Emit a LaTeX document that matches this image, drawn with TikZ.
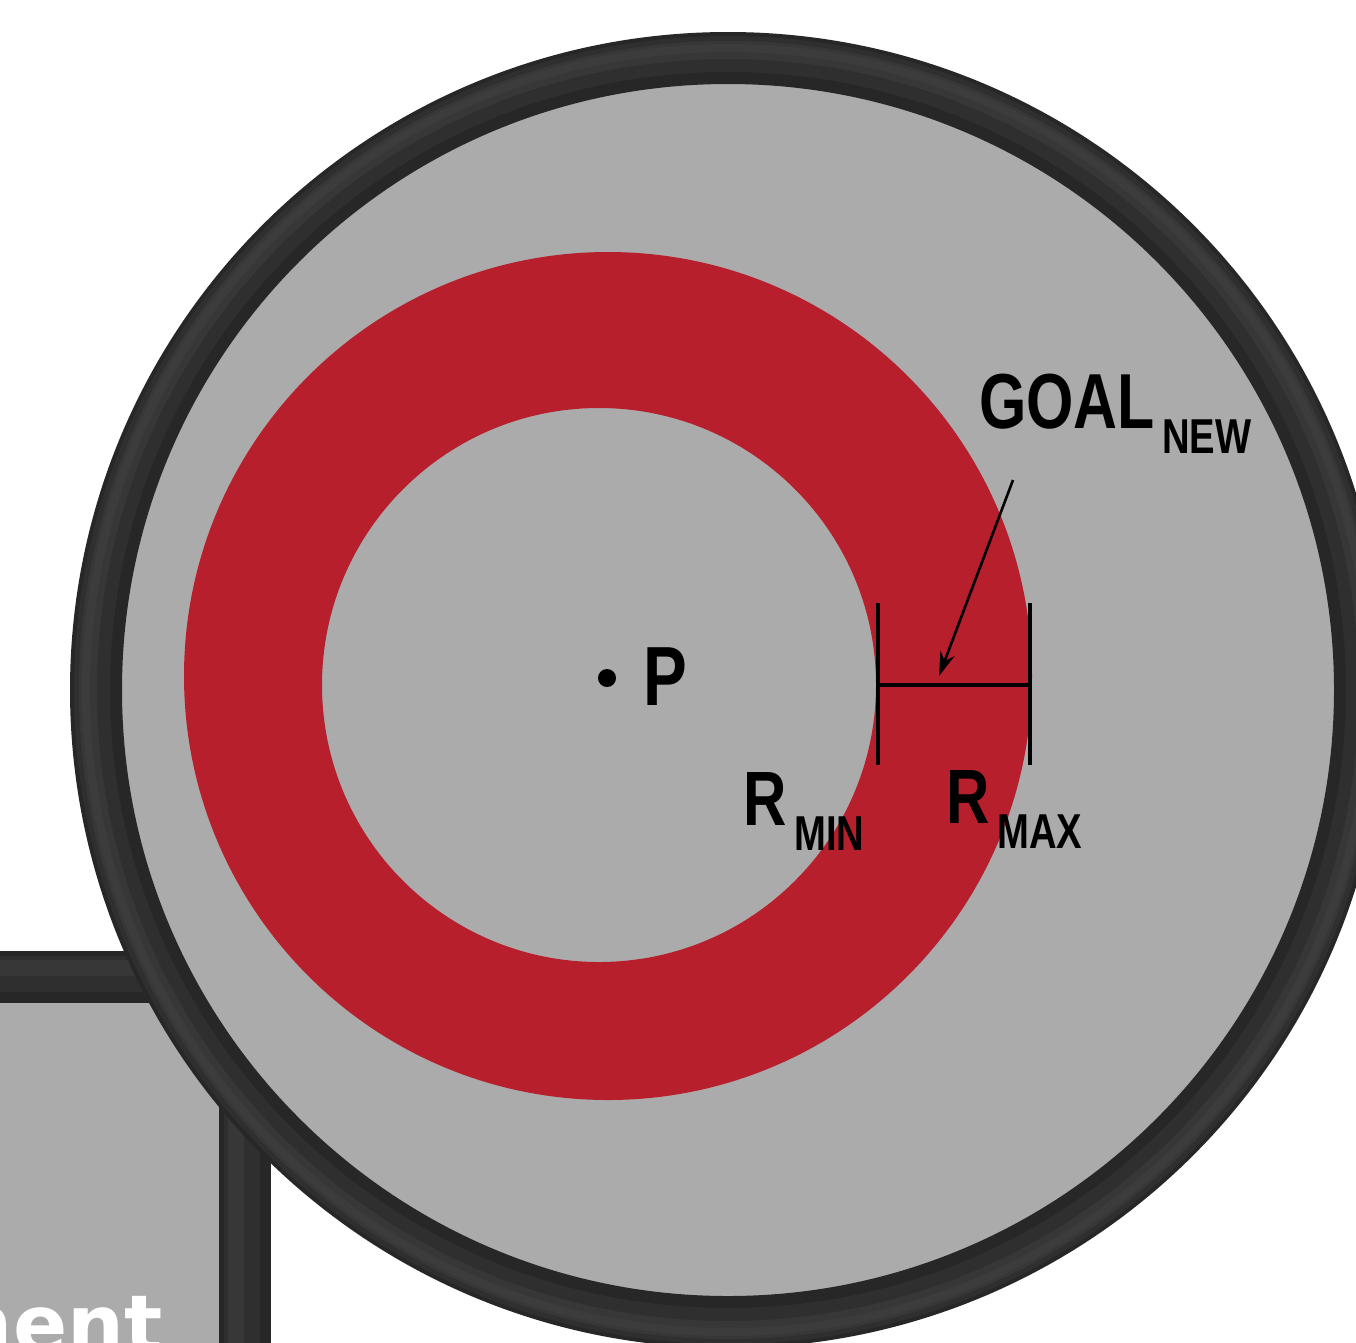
\documentclass[tikz,border=0pt]{standalone}
\usepackage{fontspec}
\usetikzlibrary{arrows.meta}
\newfontfamily\condfont[FakeStretch=0.78]{Liberation Sans}
\newfontfamily\heavyfont{DejaVu Sans}
\definecolor{bggray}{HTML}{ABABAB}
\definecolor{ringdark}{HTML}{272727}
\definecolor{ringmid}{HTML}{2F2F2F}
\definecolor{ringlight}{HTML}{373737}
\definecolor{ringhi}{HTML}{3C3C3C}
\definecolor{annred}{HTML}{B71F2D}
\newcommand{\lblfont}[1]{\condfont\bfseries\fontsize{#1}{#1}\selectfont}
\begin{document}
\begin{tikzpicture}[x=1pt,y=-1pt,
  lbl/.style={inner sep=0pt,anchor=base west,text=black},
  dimline/.style={line width=4.5pt,black}]
\useasboundingbox (0,0) rectangle (1356,1342);
\clip (0,0) rectangle (1356,1342);
\fill[white] (0,0) rectangle (1356,1342);
% bottom-left frame
\fill[bggray] (-60,977) rectangle (245,1400);
\draw[line width=52pt,ringdark] (-60,977) -- (245,977) -- (245,1400);
\draw[line width=36pt,ringmid] (-60,974) -- (242,974) -- (242,1400);
\draw[line width=16pt,ringlight] (-60,968) -- (236,968) -- (236,1400);
\node[inner sep=0pt,anchor=base east,text=white] (ment) at (163,1352)
  {\heavyfont\bfseries\fontsize{80}{80}\selectfont ment};
% big circle
\fill[bggray] (728,690) circle[radius=632];
\draw[line width=52pt,ringdark] (728,690) circle[radius=632];
\draw[line width=36pt,ringmid] (728,690) circle[radius=636];
\draw[line width=18pt,ringlight] (728,690) circle[radius=640];
\draw[line width=8pt,ringhi] (728,690) circle[radius=642];
% red annulus
\fill[annred,even odd rule] (608,676) circle[radius=424] (599,685) circle[radius=277];
% point P
\fill[black] (607,678) circle[radius=9];
\node[lbl] (P) at (643,705) {\lblfont{84}P};
% dimension lines
\coordinate (tlA) at (878,603);
\coordinate (blA) at (878,765);
\coordinate (trB) at (1030,603);
\coordinate (brB) at (1030,765);
\coordinate (midA) at (878,685);
\coordinate (midB) at (1030,685);
\draw[dimline] (tlA) -- (blA);
\draw[dimline] (trB) -- (brB);
\draw[dimline] (midA) -- (midB);
% goal arrow
\coordinate (goaltail) at (1013,480);
\coordinate (goaltip) at (939,676);
\draw[line width=2.6pt,black,-{Stealth[length=24pt,width=15pt]}] (goaltail) -- (goaltip);
% labels
\node[lbl] (goal) at (979,428) {\lblfont{78}GOAL};
\node[lbl] (goalsub) at (1162,453) {\lblfont{49}NEW};
\node[lbl] (rmin) at (743,825) {\lblfont{77}R};
\node[lbl] (rminsub) at (794,850) {\lblfont{49}MIN};
\node[lbl] (rmax) at (946,823) {\lblfont{77}R};
\node[lbl] (rmaxsub) at (997,848) {\lblfont{49}MAX};
\end{tikzpicture}
\end{document}
